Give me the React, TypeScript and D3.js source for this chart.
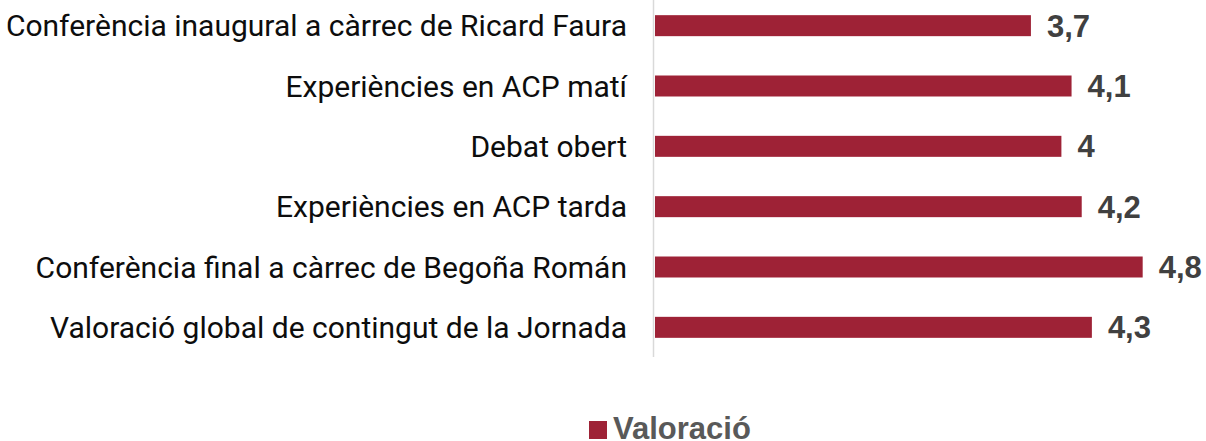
import React from "react";
import * as d3 from "d3";

const categories = [
  "Conferència inaugural a càrrec de Ricard Faura",
  "Experiències en ACP matí",
  "Debat obert",
  "Experiències en ACP tarda",
  "Conferència final a càrrec de Begoña Román",
  "Valoració global de contingut de la Jornada",
];
const values = [3.7, 4.1, 4, 4.2, 4.8, 4.3];
const seriesName = "Valoració";

const W = 1206;
const H = 441;
const BAR_COLOR = "#9e2236";

export default function App() {
  const x = d3.scaleLinear().domain([0, 5]).range([655, 655 + 508]);
  const y = d3
    .scaleBand<string>()
    .domain(categories)
    .range([-4.5, 357.5])
    .paddingInner(0.652)
    .paddingOuter(0.326);
  const fmt = (v: number) => String(v).replace(".", ",");
  return (
    <svg
      width={W}
      height={H}
      style={{ position: "absolute", left: 0, top: 0, background: "#fff" }}
    >
      <line x1={653.5} x2={653.5} y1={0} y2={357} stroke="#d9d9d9" strokeWidth={1.5} />
      {categories.map((c, i) => {
        const yc = (y(c) as number) + y.bandwidth() / 2;
        return (
          <g key={c}>
            <rect
              x={x(0)}
              y={y(c)}
              width={x(values[i]) - x(0)}
              height={y.bandwidth()}
              fill={BAR_COLOR}
            />
            <text
              x={627}
              y={yc}
              dy="0.35em"
              textAnchor="end"
              fontFamily="Roboto"
              fontSize={30}
              fill="#0d0d0d"
            >
              {c}
            </text>
            <text
              x={x(values[i]) + 16}
              y={yc}
              dy="0.36em"
              fontFamily="'Liberation Sans', Arial, sans-serif"
              fontWeight="bold"
              fontSize={31}
              fill="#404040"
            >
              {fmt(values[i])}
            </text>
          </g>
        );
      })}
      <rect x={589} y={421} width={18} height={18} fill={BAR_COLOR} />
      <text
        x={613}
        y={439}
        fontFamily="'Liberation Sans', Arial, sans-serif"
        fontWeight="bold"
        fontSize={31}
        fill="#595959"
      >
        {seriesName}
      </text>
    </svg>
  );
}
